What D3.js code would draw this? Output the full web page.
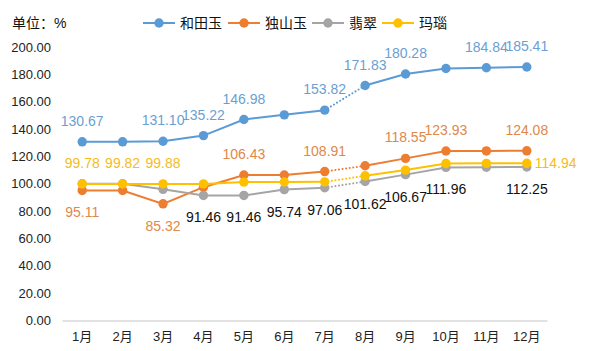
<!DOCTYPE html>
<html>
<head>
<meta charset="utf-8">
<script src="https://cdn.jsdelivr.net/npm/d3@7"></script>
<style>
body { margin: 0; background: #fff; }
text { font-family: "Liberation Sans", "Noto Sans CJK SC", sans-serif; }
</style>
</head>
<body>
<script>
var months = ["1月","2月","3月","4月","5月","6月","7月","8月","9月","10月","11月","12月"];
var hetianyu = [130.67, 130.67, 131.10, 135.22, 146.98, 150.4, 153.82, 171.83, 180.28, 184.3, 184.84, 185.41];
var dushanyu = [95.11, 95.11, 85.32, 97.5, 106.43, 106.43, 108.91, 113.2, 118.55, 123.93, 124.0, 124.08];
var feicui = [100.0, 100.0, 95.9, 91.46, 91.46, 95.74, 97.06, 101.62, 106.67, 111.96, 112.1, 112.25];
var manao = [99.78, 99.82, 99.88, 99.9, 101.2, 101.3, 101.4, 105.8, 110.0, 114.8, 114.9, 114.94];
var seriesNames = ["和田玉", "独山玉", "翡翠", "玛瑙"];
var yTicks = [0, 20, 40, 60, 80, 100, 120, 140, 160, 180, 200];

var w = 599, h = 351;
var svg = d3.select("body").append("svg").attr("width", w).attr("height", h);

var x = d3.scaleBand().domain(months).range([62, 547]);
var y = d3.scaleLinear().domain([0, 200]).range([320.5, 47]);
function cx(i) { return x(months[i]) + x.bandwidth() / 2; }

// label placement per point: a = above, b = below, r = right, "." = none
var series = [
	{name: seriesNames[0], values: hetianyu, color: "#5B9BD5", labelColor: "#6A9FD3", labels: "a.aaa.aaa.aa"},
	{name: seriesNames[1], values: dushanyu, color: "#ED7D31", labelColor: "#E0884A", labels: "b.b.a.a.aa.a"},
	{name: seriesNames[2], values: feicui, color: "#A5A5A5", labelColor: "#111", labels: "...bbbbbbb.b"},
	{name: seriesNames[3], values: manao, color: "#FFC000", labelColor: "#F5BC1C", labels: "aaa........r"}
];

// axes
var xAxis = d3.axisBottom(x).tickSize(0).tickSizeOuter(0).tickPadding(11);
var gx = svg.append("g").attr("transform", "translate(0," + y(0) + ")").call(xAxis);
gx.select(".domain").attr("stroke", "#D9D9D9").attr("stroke-width", 1.3);
gx.selectAll("text").attr("font-size", 13).attr("fill", "#222");

var yAxis = d3.axisLeft(y).tickValues(yTicks).tickSize(0).tickPadding(3).tickFormat(d3.format(".2f"));
var gy = svg.append("g").attr("transform", "translate(54,0)").call(yAxis);
gy.select(".domain").remove();
gy.selectAll("text").attr("font-size", 13).attr("fill", "#222");

var line = d3.line().x(function(d) { return cx(d.i); }).y(function(d) { return y(d.v); });

series.forEach(function(s) {
	var pts = s.values.map(function(v, i) { return {v: v, i: i, pos: s.labels[i]}; });
	var g = svg.append("g");
	g.append("path").attr("d", line(pts.slice(0, 7))).attr("fill", "none").attr("stroke", s.color).attr("stroke-width", 2);
	g.append("path").attr("d", line(pts.slice(7))).attr("fill", "none").attr("stroke", s.color).attr("stroke-width", 2);
	g.append("path").attr("d", line(pts.slice(6, 8))).attr("fill", "none")
		.attr("stroke", s.color).attr("stroke-width", 2).attr("stroke-dasharray", "0.1,3.5").attr("stroke-linecap", "round");
	g.selectAll("circle").data(pts).enter().append("circle")
		.attr("cx", function(d) { return cx(d.i); })
		.attr("cy", function(d) { return y(d.v); })
		.attr("r", 4.7)
		.attr("fill", s.color);
	s.pts = pts;
});

series.forEach(function(s) {
	svg.append("g").selectAll("text").data(s.pts.filter(function(d) { return d.pos !== "."; })).enter()
		.append("text")
		.attr("x", function(d) { return d.pos === "r" ? cx(d.i) + 8 : cx(d.i); })
		.attr("y", function(d) {
			if (d.pos === "a") return y(d.v) - 16;
			if (d.pos === "b") return y(d.v) + 27;
			return y(d.v) + 5;
		})
		.attr("text-anchor", function(d) { return d.pos === "r" ? "start" : "middle"; })
		.attr("font-size", 14)
		.attr("fill", s.labelColor)
		.text(function(d) { return d3.format(".2f")(d.v); });
});

// unit label
svg.append("text").attr("x", 12).attr("y", 28).attr("font-size", 14).attr("fill", "#111").text("单位：%");

// legend
var legendX = [143, 228, 312, 382];
var legend = svg.append("g").selectAll("g").data(series).enter().append("g")
	.attr("transform", function(d, i) { return "translate(" + legendX[i] + ",23)"; });
legend.append("line").attr("x1", 0).attr("x2", 32).attr("stroke", function(d) { return d.color; }).attr("stroke-width", 2);
legend.append("circle").attr("cx", 16).attr("r", 4.7).attr("fill", function(d) { return d.color; });
legend.append("text").attr("x", 37).attr("y", 5).attr("font-size", 14).attr("fill", "#111").text(function(d) { return d.name; });
</script>
</body>
</html>
